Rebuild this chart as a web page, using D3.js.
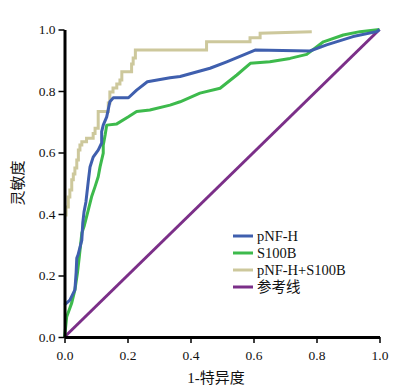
<!DOCTYPE html>
<html><head><meta charset="utf-8">
<script src="https://cdn.jsdelivr.net/npm/d3@7"></script>
<style>body{margin:0;background:#fff}</style>
</head><body>
<svg id="c" width="403" height="392"></svg>
<script>
const seriesNames = ["pNF-H", "S100B", "pNF-H+S100B", "参考线"];
const seriesColors = ["#3f5fae", "#3dba4c", "#cdc89c", "#7b2f88"];
const ticks = [0, 0.2, 0.4, 0.6, 0.8, 1.0];
const xTitle = "1-特异度";
const yTitle = "灵敏度";

const pnfhX = [0,0.017,0.033,0.037,0.039,0.043,0.055,0.058,0.062,0.068,0.076,0.081,0.091,0.107,0.118,0.118,0.123,0.134,0.144,0.155,0.203,0.229,0.263,0.335,0.367,0.462,0.515,0.605,0.779,0.832,0.916,0.991,1];
const pnfhY = [0.104,0.120,0.153,0.211,0.257,0.267,0.315,0.371,0.407,0.439,0.511,0.553,0.585,0.608,0.631,0.668,0.689,0.716,0.765,0.778,0.778,0.803,0.830,0.843,0.847,0.874,0.895,0.933,0.930,0.950,0.977,0.993,1];

const s100bX = [0,0.002,0.007,0.023,0.033,0.041,0.047,0.055,0.062,0.070,0.086,0.097,0.107,0.113,0.118,0.123,0.123,0.129,0.134,0.166,0.203,0.229,0.271,0.335,0.367,0.430,0.494,0.547,0.590,0.652,0.716,0.769,0.822,0.885,0.938,1];
const s100bY = [0,0.017,0.066,0.111,0.153,0.208,0.261,0.338,0.359,0.391,0.456,0.489,0.521,0.554,0.576,0.598,0.624,0.657,0.689,0.693,0.716,0.733,0.738,0.754,0.765,0.793,0.809,0.852,0.890,0.895,0.906,0.919,0.960,0.982,0.993,1];

const combX = [0,0.005,0.005,0.012,0.012,0.017,0.017,0.023,0.023,0.028,0.028,0.033,0.033,0.039,0.039,0.044,0.044,0.049,0.049,0.055,0.055,0.070,0.070,0.091,0.091,0.097,0.097,0.107,0.107,0.139,0.139,0.144,0.144,0.154,0.154,0.166,0.166,0.176,0.176,0.182,0.182,0.213,0.213,0.218,0.218,0.225,0.225,0.451,0.451,0.589,0.589,0.621,0.621,0.785];
const combY = [0.397,0.397,0.423,0.423,0.455,0.455,0.478,0.478,0.511,0.511,0.530,0.530,0.550,0.550,0.576,0.576,0.608,0.608,0.624,0.624,0.635,0.635,0.646,0.646,0.662,0.662,0.679,0.679,0.733,0.733,0.761,0.761,0.797,0.797,0.810,0.810,0.823,0.823,0.836,0.836,0.863,0.863,0.888,0.888,0.907,0.907,0.933,0.933,0.960,0.960,0.973,0.973,0.988,0.993];

const refX = [0, 1];
const refY = [0, 1];

const svg = d3.select("#c");
const x = d3.scaleLinear().domain([0,1]).range([64.5, 379.5]);
const y = d3.scaleLinear().domain([0,1]).range([337, 29.5]);

const line = d3.line().x(d=>x(d[0])).y(d=>y(d[1]));
const zip = (a,b)=>a.map((v,i)=>[v,b[i]]);
const data = [zip(pnfhX,pnfhY), zip(s100bX,s100bY), zip(combX,combY), zip(refX,refY)];
const order = [3,2,1,0];
order.forEach(i=>{
  svg.append("path").attr("d", line(data[i])).attr("fill","none")
    .attr("stroke", seriesColors[i]).attr("stroke-width", 3)
    .attr("stroke-linejoin", i===2 ? "miter" : "round");
});

const fmt = d3.format(".1f");
const xa = svg.append("g").attr("transform","translate(0,337)")
  .call(d3.axisBottom(x).tickValues(ticks).tickFormat(fmt).tickSize(6).tickSizeOuter(0));
const ya = svg.append("g").attr("transform","translate(64.5,0)")
  .call(d3.axisLeft(y).tickValues(ticks).tickFormat(fmt).tickSize(6).tickSizeOuter(0));
[xa,ya].forEach(g=>{
  g.select(".domain").attr("stroke","#000").attr("stroke-width",3);
  g.selectAll(".tick line").attr("stroke","#000").attr("stroke-width",1.5);
  g.selectAll(".tick text").attr("fill","#111").style("font-family","'Liberation Serif',serif").style("font-size","13.5px");
});
xa.selectAll(".tick text").attr("dy","1.0em");

svg.append("text").attr("x",216).attr("y",383).attr("text-anchor","middle")
  .style("font-family","'Liberation Serif','Noto Sans CJK SC',serif").style("font-size","15px").attr("fill","#111").text(xTitle);
svg.append("text").attr("transform","translate(23,183) rotate(-90)").attr("text-anchor","middle")
  .style("font-family","'Noto Sans CJK SC',sans-serif").style("font-size","15px").attr("fill","#111").text(yTitle);

const lg = svg.append("g");
seriesNames.forEach((n,i)=>{
  const yy = 236 + i*17;
  lg.append("line").attr("x1",233).attr("x2",253).attr("y1",yy).attr("y2",yy)
    .attr("stroke",seriesColors[i]).attr("stroke-width",3);
  lg.append("text").attr("x",257).attr("y",yy+5)
    .style("font-family","'Liberation Serif','Noto Sans CJK SC',serif").style("font-size","14.5px").attr("fill","#111").text(n);
});
</script>
</body></html>
